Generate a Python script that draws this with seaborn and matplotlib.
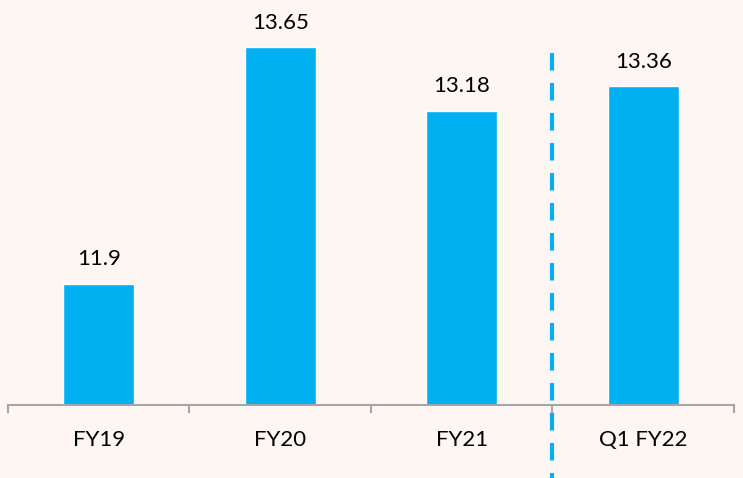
import matplotlib
matplotlib.use("Agg")
import matplotlib.pyplot as plt
import seaborn as sns
import pandas as pd

periods = ["FY19", "FY20", "FY21", "Q1 FY22"]
values = [11.9, 13.65, 13.18, 13.36]
value_labels = ["11.9", "13.65", "13.18", "13.36"]

bg = "#FEF6F3"
bar_color = "#00B0F0"
axis_gray = "#A6A6A6"

sns.set_theme(style="white")
plt.rcParams["font.family"] = ["Lato", "DejaVu Sans"]

df = pd.DataFrame({"period": periods, "value": values})

fig = plt.figure(figsize=(7.43, 4.78), dpi=100, facecolor=bg)
ax = fig.add_axes([8 / 743, 73 / 478, 726 / 743, 405 / 478])
ax.set_facecolor(bg)

sns.barplot(data=df, x="period", y="value", order=periods, color=bar_color,
            saturation=1, width=0.39, ax=ax)

ax.set_ylim(11, 14)
ax.set_xlim(-0.5, len(periods) - 0.5)

for i, (v, lab) in enumerate(zip(values, value_labels)):
    ax.annotate(lab, (i, v), xytext=(0, 10.5), textcoords="offset points",
                ha="center", va="bottom", fontsize=16, color="black")

# separator between annual and quarterly figures
ax.plot([2.5, 2.5], [13.607, 10.459], color=bar_color, lw=3,
        linestyle=(0, (4.2, 3.0)), clip_on=False, zorder=5)

for s in ["top", "right", "left"]:
    ax.spines[s].set_visible(False)
ax.spines["bottom"].set_color(axis_gray)
ax.spines["bottom"].set_linewidth(1.5)

ax.set_yticks([])
ax.set_xticks([i - 0.5 for i in range(len(periods) + 1)])
ax.set_xticklabels([])
ax.set_xticks(range(len(periods)), minor=True)
ax.set_xticklabels(periods, minor=True, fontsize=16, color="black")
ax.tick_params(axis="x", which="major", direction="out", length=6,
               width=1.5, color=axis_gray, bottom=True)
ax.tick_params(axis="x", which="minor", length=0, pad=18, bottom=True)
ax.set_xlabel("")
ax.set_ylabel("")

fig.savefig("out.png", dpi=100, facecolor=bg)
